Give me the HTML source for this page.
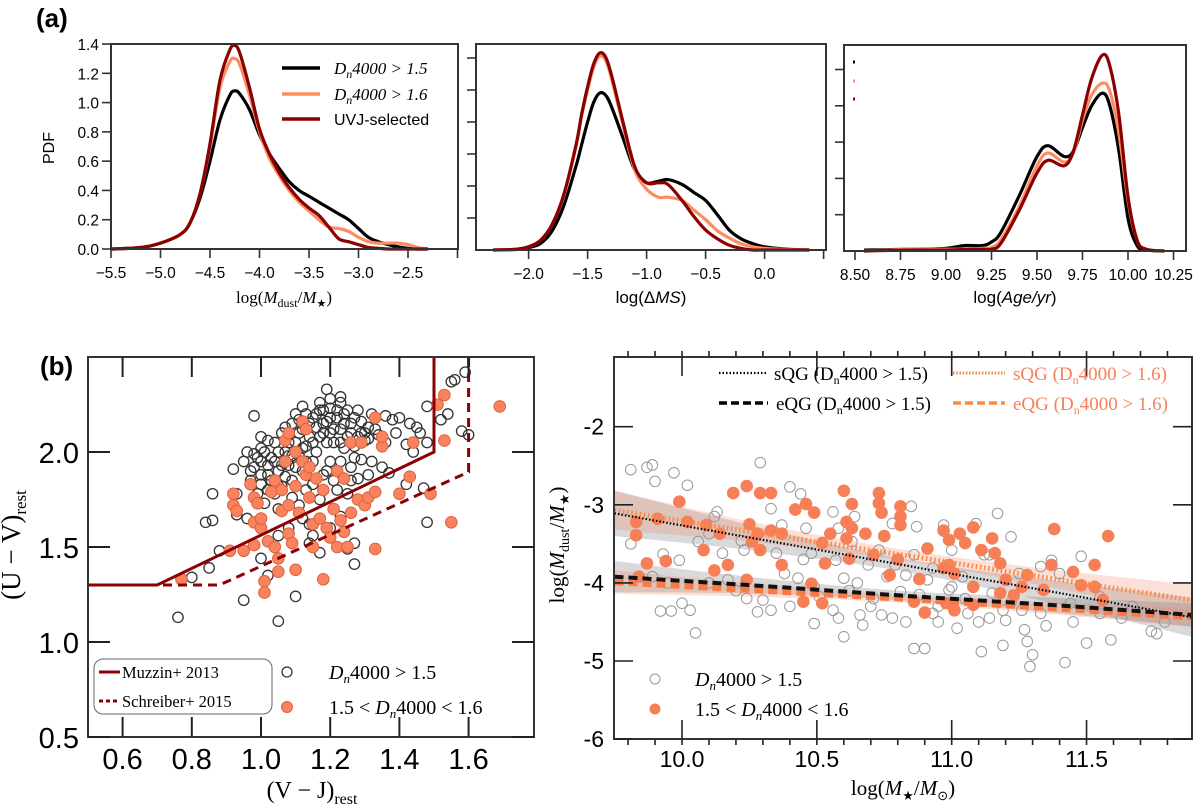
<!DOCTYPE html>
<html><head><meta charset="utf-8"><style>
html,body{margin:0;padding:0;background:#fff;}
svg{display:block;}
text{font-family:"Liberation Sans",sans-serif;}
.serif{font-family:"Liberation Serif",serif;}
</style></head><body>
<svg id="fig" width="1200" height="809" viewBox="0 0 1200 809" xmlns="http://www.w3.org/2000/svg">
<defs>
<clipPath id="clipB1"><rect x="88" y="357" width="446" height="380"/></clipPath>
<clipPath id="clipB2"><rect x="614" y="357" width="578" height="382"/></clipPath>
</defs>
</svg>
<script>
// ---------- Panel a1: log(Mdust/M*) ----------
const a1X = [-5.5,-5.2,-5.0,-4.8,-4.7,-4.6,-4.5,-4.4,-4.3,-4.25,-4.2,-4.1,-4.0,-3.9,-3.8,-3.7,-3.6,-3.5,-3.4,-3.3,-3.2,-3.1,-3.0,-2.9,-2.8,-2.7,-2.6,-2.5,-2.4,-2.3];
const a1Black = [0,0.01,0.04,0.1,0.18,0.35,0.6,0.88,1.05,1.08,1.06,0.95,0.78,0.65,0.55,0.46,0.40,0.36,0.32,0.28,0.24,0.2,0.14,0.08,0.05,0.03,0.015,0.005,0,0];
const a1Orange = [0,0.01,0.04,0.1,0.18,0.38,0.7,1.1,1.28,1.30,1.26,1.05,0.8,0.62,0.5,0.4,0.32,0.26,0.2,0.15,0.14,0.12,0.08,0.05,0.04,0.04,0.04,0.03,0.01,0];
const a1Red = [0,0.01,0.04,0.1,0.18,0.38,0.72,1.15,1.36,1.39,1.34,1.1,0.82,0.65,0.52,0.42,0.34,0.28,0.23,0.15,0.07,0.05,0.03,0.01,0.005,0,0,0,0,0];
const a1XTicks = [-5.5,-5.0,-4.5,-4.0,-3.5,-3.0,-2.5,-2.0];
const a1XLabels = ["\u22125.5","\u22125.0","\u22124.5","\u22124.0","\u22123.5","\u22123.0","\u22122.5",""];
const a1YTicks = [0,0.2,0.4,0.6,0.8,1.0,1.2,1.4];
const a1YLabels = ["0.0","0.2","0.4","0.6","0.8","1.0","1.2","1.4"];
// ---------- Panel a2: log(ΔMS) ----------
const a2X = [-2.3,-2.1,-2.0,-1.9,-1.8,-1.7,-1.6,-1.55,-1.5,-1.45,-1.4,-1.35,-1.3,-1.2,-1.1,-1.0,-0.9,-0.82,-0.7,-0.6,-0.5,-0.4,-0.3,-0.2,-0.1,0.0,0.2,0.38];
const a2Black = [0,0.004,0.015,0.04,0.12,0.28,0.52,0.66,0.8,0.92,0.98,0.97,0.9,0.7,0.5,0.42,0.43,0.44,0.41,0.36,0.31,0.22,0.125,0.07,0.04,0.02,0.005,0];
const a2Orange = [0,0.005,0.02,0.06,0.16,0.35,0.64,0.84,1.0,1.14,1.21,1.19,1.08,0.78,0.5,0.38,0.33,0.33,0.31,0.25,0.19,0.12,0.075,0.04,0.02,0.01,0.003,0];
const a2Red = [0,0.005,0.02,0.06,0.16,0.35,0.65,0.85,1.02,1.16,1.23,1.21,1.1,0.8,0.52,0.42,0.42,0.41,0.31,0.21,0.125,0.07,0.03,0.01,0,0,0,0];
const a2XTicks = [-2.0,-1.5,-1.0,-0.5,0.0,0.5];
const a2XLabels = ["\u22122.0","\u22121.5","\u22121.0","\u22120.5","0.0",""];
const a2YTicks = [0.2,0.4,0.6,0.8,1.0,1.2];
// ---------- Panel a3: log(Age/yr) ----------
const a3X = [8.55,8.8,9.0,9.1,9.2,9.25,9.3,9.4,9.5,9.56,9.65,9.7,9.75,9.8,9.86,9.9,9.95,10.0,10.05,10.1,10.2];
const a3Black = [0.005,0.01,0.015,0.03,0.03,0.05,0.1,0.3,0.52,0.58,0.52,0.55,0.68,0.8,0.87,0.8,0.55,0.18,0.03,0.005,0];
const a3Orange = [0,0.01,0.01,0.01,0.015,0.02,0.06,0.24,0.47,0.54,0.49,0.54,0.72,0.86,0.925,0.88,0.65,0.28,0.06,0.01,0];
const a3Red = [0,0.005,0.005,0.008,0.01,0.01,0.04,0.22,0.43,0.50,0.47,0.55,0.75,0.95,1.08,1.02,0.75,0.3,0.06,0.01,0];
const a3XTicks = [8.5,8.75,9.0,9.25,9.5,9.75,10.0,10.25];
const a3XLabels = ["8.50","8.75","9.00","9.25","9.50","9.75","10.00","10.25"];
const a3YTicks = [0.2,0.4,0.6,0.8,1.0];
// ---------- Panel b1: UVJ ----------
const b1BlackX = [0.76,0.8,0.84,0.86,0.86,0.85,0.88,0.92,0.95,0.98,0.98,1.0,1.01,1.02,1.05,1.1,1.19,1.23,1.48,1.47,1.48,1.48,1.54,1.55,1.56,1.59,1.58,1.6,1.52,1.42,1.43,1.36,1.38,1.4,1.45,1.35,1.37,1.42,1.31,1.3,1.27,1.27,1.25,1.17,1.15,1.14,1.12,1.08,1.05,0.96,0.93,0.93,0.98,1.0,1.0,1.02,1.03,1.04,1.05,1.06,1.07,1.08,1.09,1.1,1.11,1.12,1.13,1.14,1.15,1.16,1.17,1.18,1.19,1.2,1.21,1.22,1.23,1.24,1.25,1.26,1.27,1.28,1.29,1.3,1.31,1.32,1.34,1.06,1.09,1.12,1.15,1.18,1.2,1.22,1.25,1.17,1.11,1.04,1.01,0.97,1.13,1.16,1.2,1.24,1.26,1.28,1.0,1.05,1.14,1.2,1.23,1.29,1.1,1.18,1.23,0.99,
0.95,0.96,0.97,0.99,1.0,1.01,1.02,1.03,1.04,1.05,1.06,1.07,1.08,1.09,1.1,1.11,1.12,1.13,1.14,1.15,1.16,1.17,1.18,1.19,1.2,1.21,1.22,1.23,1.24,1.25,1.26,1.27,1.28,1.29,1.3,1.31,1.33,1.02,1.07,1.11,1.15,1.19,1.23,1.27,1.05,1.09,1.13,1.21,1.26,1.32,1.36,1.39,1.44,1.46,1.02,1.0,1.12,1.2,1.17,1.08];
const b1BlackY = [1.13,1.34,1.63,1.78,1.64,1.39,1.48,1.91,1.22,1.99,2.19,1.44,1.26,1.35,1.11,1.24,2.33,2.29,1.63,1.81,2.05,2.24,2.2,2.37,2.38,2.42,2.11,2.09,2.17,2.04,2.15,2.19,2.17,2.18,2.13,1.92,1.89,1.83,1.88,1.74,1.52,1.41,1.49,1.47,1.56,1.52,1.65,1.6,1.56,1.65,1.67,1.78,1.92,1.95,2.02,1.88,1.97,2.05,1.9,2.1,2.0,1.93,2.15,2.05,1.98,2.12,2.2,2.08,2.18,2.0,2.22,2.1,2.16,2.23,2.05,2.18,2.12,2.2,2.08,2.15,2.03,2.22,2.1,2.06,2.13,2.2,2.09,1.82,1.85,1.9,1.83,1.88,1.95,1.8,1.78,1.75,1.72,1.78,1.73,1.85,2.03,2.13,2.1,2.02,1.92,1.86,1.83,1.7,1.62,1.6,1.66,1.96,2.2,2.22,2.26,1.78,
1.95,2.0,1.9,1.97,1.88,2.0,1.93,1.85,1.95,2.0,1.93,1.87,2.05,1.98,1.92,2.1,2.02,1.95,2.15,2.05,2.2,2.08,2.15,2.05,2.18,2.12,2.22,2.05,2.15,2.22,2.1,2.18,2.08,2.16,2.1,2.07,2.12,2.06,2.13,2.17,1.95,1.9,1.95,1.97,1.82,1.76,1.8,1.85,1.85,1.95,2.05,2.1,2.0,2.1,1.8,2.08,2.24,2.28,2.26,1.98];
const b1OrangeX = [0.77,0.91,0.92,0.92,0.93,0.95,0.97,0.98,0.98,0.98,0.99,1.0,1.0,1.01,1.01,1.02,1.03,1.04,1.05,1.05,1.06,1.06,1.07,1.07,1.08,1.08,1.08,1.09,1.1,1.1,1.1,1.11,1.12,1.12,1.13,1.13,1.14,1.15,1.15,1.16,1.17,1.18,1.18,1.19,1.2,1.21,1.22,1.22,1.23,1.24,1.24,1.25,1.26,1.26,1.28,1.29,1.3,1.31,1.33,1.33,1.35,1.35,1.33,1.44,1.43,1.4,1.49,1.51,1.53,1.53,1.55,1.69,1.04,1.14];
const b1OrangeY = [1.33,1.48,1.78,1.72,1.69,1.48,1.83,1.76,1.63,1.51,1.73,1.6,1.65,1.32,1.26,1.53,1.79,1.5,1.44,1.37,1.69,1.8,1.95,2.06,2.1,1.72,1.57,1.52,1.38,1.82,2.0,1.68,1.95,2.16,1.88,2.12,1.76,1.5,1.62,1.86,1.65,1.8,1.33,1.6,1.55,1.7,1.9,1.5,1.64,1.86,1.58,1.5,2.05,1.68,1.75,2.05,1.72,1.76,1.49,1.79,2.03,2.08,2.18,2.05,1.87,1.78,1.78,2.25,2.3,2.06,1.63,2.24,1.85,1.92];
const muzzinX = [0.5,0.7,1.5,1.5];
const muzzinY = [1.3,1.3,2.0,2.5];
const schreiberX = [0.5,0.88,1.6,1.6];
const schreiberY = [1.3,1.3,1.895,2.5];
const b1XTicks = [0.6,0.8,1.0,1.2,1.4,1.6];
const b1XLabels = ["0.6","0.8","1.0","1.2","1.4","1.6"];
const b1YTicks = [0.5,1.0,1.5,2.0];
const b1YLabels = ["0.5","1.0","1.5","2.0"];
// ---------- Panel b2: Mdust/M* vs M* ----------
const b2BlackX = [9.81,9.87,9.89,9.90,9.97,10.02,9.81,9.93,9.89,9.92,9.96,9.99,10.0,10.03,10.05,10.06,10.10,10.13,10.12,10.15,10.17,10.22,10.24,10.28,10.29,10.30,10.33,10.33,10.35,10.38,10.40,10.44,10.46,10.48,10.49,10.49,10.51,10.56,10.56,10.58,10.60,10.60,10.63,10.64,10.66,10.67,10.69,10.71,10.73,10.74,10.76,10.78,10.79,10.81,10.83,10.85,10.86,10.86,10.87,10.90,10.91,10.93,10.95,10.97,10.99,11.02,11.04,11.06,11.09,11.11,11.14,11.15,11.17,11.19,11.19,11.22,11.25,11.28,11.29,11.30,11.33,11.37,11.40,11.42,11.44,11.48,11.50,11.55,11.59,11.63,11.67,11.74,11.76,11.79,11.12,11.00,10.93,10.57,10.43,10.37,10.23,11.33,11.55,11.20,11.26,11.14,10.62,10.70,10.78,10.88,10.95,11.05,11.10,11.00,10.58,10.65,10.83,11.22,11.35,11.45,10.40,10.20,10.10,9.95,10.45,11.27];
const b2BlackY = [-2.55,-2.52,-2.49,-2.70,-2.59,-2.75,-3.50,-3.63,-3.92,-4.36,-4.36,-3.71,-4.26,-4.35,-4.64,-3.47,-3.37,-3.09,-3.15,-3.62,-3.96,-3.46,-4.20,-4.37,-2.46,-4.22,-4.35,-3.05,-3.62,-3.88,-2.77,-2.86,-3.30,-3.62,-4.05,-4.52,-4.18,-4.35,-3.09,-3.30,-4.69,-3.94,-3.47,-3.15,-4.41,-4.54,-3.77,-4.20,-3.58,-4.41,-3.92,-3.24,-3.77,-4.11,-4.50,-3.02,-4.84,-3.64,-3.28,-4.84,-3.96,-4.39,-4.50,-3.26,-4.09,-4.58,-3.92,-4.39,-3.24,-4.88,-3.64,-4.13,-3.11,-4.35,-4.80,-3.41,-3.88,-4.75,-5.07,-4.92,-4.39,-3.71,-3.88,-5.02,-4.26,-3.66,-4.77,-4.39,-4.73,-4.45,-4.30,-4.62,-4.65,-4.50,-3.64,-3.58,-3.81,-3.71,-3.94,-3.26,-3.58,-3.79,-4.18,-4.48,-4.35,-4.45,-4.10,-4.30,-4.45,-4.15,-4.30,-4.20,-4.50,-4.05,-4.45,-4.00,-3.90,-4.25,-4.55,-4.50,-4.30,-4.10,-4.00,-4.00,-3.70,-4.60];
const b2OrangeX = [9.83,9.83,9.91,9.99,10.02,10.09,10.14,10.08,9.94,9.87,9.84,10.12,10.17,10.19,10.24,10.25,10.26,10.28,10.29,10.29,10.33,10.33,10.37,10.37,10.42,10.46,10.49,10.52,10.55,10.53,10.60,10.63,10.61,10.61,10.62,10.63,10.68,10.71,10.73,10.73,10.74,10.75,10.77,10.81,10.81,10.81,10.80,10.86,10.88,10.90,10.91,10.97,10.99,10.99,11.01,11.03,11.05,11.08,11.08,11.11,11.15,11.16,11.18,11.18,11.20,11.23,11.28,11.26,11.34,11.38,11.37,11.45,11.48,11.53,11.53,11.56,11.58,10.97,10.48,10.24,10.45,10.52,10.98,11.01,11.08];
const b2OrangeY = [-3.22,-3.39,-3.18,-2.96,-3.22,-3.26,-3.37,-3.58,-3.72,-3.75,-3.92,-3.84,-3.77,-2.85,-2.76,-3.25,-3.47,-3.37,-3.58,-2.85,-2.85,-3.33,-3.37,-3.77,-3.06,-2.99,-3.10,-3.49,-3.37,-3.75,-2.82,-2.99,-3.22,-3.43,-3.69,-3.30,-3.37,-3.64,-2.85,-2.98,-3.10,-3.40,-3.90,-3.02,-3.15,-3.26,-3.70,-4.24,-3.95,-4.38,-3.56,-3.33,-3.45,-3.77,-3.88,-3.37,-3.49,-3.29,-4.05,-3.58,-3.43,-3.62,-3.75,-4.13,-3.96,-4.16,-3.90,-4.05,-4.09,-3.31,-3.77,-3.86,-4.03,-3.77,-4.05,-4.22,-3.40,-3.81,-4.01,-3.96,-4.24,-4.26,-4.26,-4.35,-4.28];
const fitX = [9.75,10.3,10.85,11.4,11.89];
const sqgBlackMid = [-3.11,-3.45,-3.79,-4.13,-4.44];
const sqgBlackHW = [0.29,0.15,0.08,0.15,0.25];
const sqgOrangeMid = [-3.07,-3.37,-3.66,-3.96,-4.22];
const sqgOrangeHW = [0.25,0.12,0.07,0.12,0.2];
const eqgBlackMid = [-3.92,-4.04,-4.17,-4.29,-4.41];
const eqgBlackHW = [0.2,0.1,0.06,0.1,0.15];
const eqgOrangeMid = [-3.99,-4.1,-4.21,-4.33,-4.44];
const eqgOrangeHW = [0.15,0.08,0.05,0.08,0.12];
const b2XTicks = [10.0,10.5,11.0,11.5];
const b2XLabels = ["10.0","10.5","11.0","11.5"];
const b2YTicks = [-6,-5,-4,-3,-2];
const b2YLabels = ["-6","-5","-4","-3","-2"];

const NS = "http://www.w3.org/2000/svg";
const svg = document.getElementById('fig');
function mk(tag, name, inter, parent) {
  const el = document.createElementNS(NS, tag);
  
  
  (parent || svg).appendChild(el);
  return el;
}
function set(el, attrs){ for (const k in attrs) el.setAttribute(k, attrs[k]); return el; }
function txt(name, x, y, s, size, opts) {
  const t = mk('text', name, false, opts && opts.parent);
  set(t, {x:x, y:y, 'font-size':size});
  if (opts) { if (opts.anchor) t.setAttribute('text-anchor', opts.anchor); if (opts.cls) t.setAttribute('class', opts.cls);
    if (opts.rot) t.setAttribute('transform', 'rotate(-90 '+x+' '+y+')'); if (opts.fill) t.setAttribute('fill', opts.fill);
    if (opts.weight) t.setAttribute('font-weight', opts.weight); if (opts.style) t.setAttribute('font-style', opts.style); }
  if (opts && opts.html) t.innerHTML = s; else t.textContent = s;
  return t;
}
function smoothPath(pts) {
  let d = 'M' + pts[0][0].toFixed(1) + ',' + pts[0][1].toFixed(1);
  for (let i = 0; i < pts.length - 1; i++) {
    const p0 = pts[Math.max(0,i-1)], p1 = pts[i], p2 = pts[i+1], p3 = pts[Math.min(pts.length-1,i+2)];
    const c1x = p1[0] + (p2[0]-p0[0])/6, c1y = p1[1] + (p2[1]-p0[1])/6;
    const c2x = p2[0] - (p3[0]-p1[0])/6, c2y = p2[1] - (p3[1]-p1[1])/6;
    d += ' C' + c1x.toFixed(1)+','+c1y.toFixed(1)+' '+c2x.toFixed(1)+','+c2y.toFixed(1)+' '+p2[0].toFixed(1)+','+p2[1].toFixed(1);
  }
  return d;
}
function box(name, x0, y0, x1, y1) {
  const r = mk('rect', name, false);
  set(r, {x:x0, y:y0, width:x1-x0, height:y1-y0, fill:'none', stroke:'#333', 'stroke-width':2});
}
function line(name, x1, y1, x2, y2, stroke, w, dash, parent) {
  const l = mk('line', name, false, parent);
  set(l, {x1:x1, y1:y1, x2:x2, y2:y2, stroke:stroke, 'stroke-width':w});
  if (dash) l.setAttribute('stroke-dasharray', dash);
  return l;
}
const BLACK = '#000', ORANGE = '#fc8d62', RED = '#8b0000';

// ===== Panel (a) =====
txt('panel-a-label', 36, 27, '(a)', 26, {weight:'bold'});
function kdePanel(id, X, Y, x0, y0, x1, y1, xs, series, xt, xl, yt, yl) {
  const g = mk('g', id, false);
  const cols = [BLACK, ORANGE, RED], nm = ['dn4000-gt-1.5','dn4000-gt-1.6','uvj-selected'];
  series.forEach((s, k) => {
    const p = mk('path', id+'-curve-'+nm[k], false, g);
    set(p, {d: smoothPath(xs.map((v,i)=>[X(v), Y(s[i])])), fill:'none', stroke:cols[k], 'stroke-width':3.2, 'stroke-linejoin':'round'});
  });
  box(id+'-frame', x0, y0, x1, y1);
  xt.forEach((v,i) => { line(id+'-x-tick', X(v), y1, X(v), y1+9, '#333', 1.6);
    if (xl[i]) txt(id+'-x-tick-label', X(v), y1+29, xl[i], 15.5, {anchor:'middle'}); });
  yt.forEach((v,i) => { line(id+'-y-tick', x0-9, Y(v), x0, Y(v), '#333', 1.6);
    if (yl) txt(id+'-y-tick-label', x0-12, Y(v)+6, yl[i], 15.5, {anchor:'end'}); });
}
const a1Xs = v => 111 + (v + 5.5) * 99, a1Ys = v => 249 - v * 146.4;
kdePanel('panel-a1', a1Xs, a1Ys, 111, 44, 458, 249, a1X, [a1Black, a1Orange, a1Red], a1XTicks, a1XLabels, a1YTicks, a1YLabels);
const a2Xs = v => 528.6 + (v + 2) * 118, a2Ys = v => 250 - v * 160;
kdePanel('panel-a2', a2Xs, a2Ys, 476, 44, 826, 250, a2X, [a2Black, a2Orange, a2Red], a2XTicks, a2XLabels, a2YTicks, null);
const a3Xs = v => 855 + (v - 8.5) * 182, a3Ys = v => 251 - v * 181.5;
kdePanel('panel-a3', a3Xs, a3Ys, 844, 45, 1186, 251, a3X, [a3Black, a3Orange, a3Red], a3XTicks, a3XLabels, a3YTicks, null);
txt('a1-y-axis-title', 54, 148, 'PDF', 16, {anchor:'middle', rot:true});
txt('a1-x-axis-title', 284, 303, 'log(<tspan font-style="italic">M</tspan><tspan font-size="12" dy="4">dust</tspan><tspan dy="-4">/</tspan><tspan font-style="italic">M</tspan><tspan font-size="11" dy="4">\u2605</tspan><tspan dy="-4">)</tspan>', 17, {anchor:'middle', cls:'serif', html:true});
txt('a2-x-axis-title', 651, 303, 'log(\u0394<tspan font-style="italic">MS</tspan>)', 17, {anchor:'middle', html:true});
txt('a3-x-axis-title', 1015, 303, 'log(<tspan font-style="italic">Age/yr</tspan>)', 17, {anchor:'middle', html:true});
const leg = [['legend-entry-dn4000-gt-1.5', BLACK, 'D<tspan font-size="12" dy="4" font-style="italic">n</tspan><tspan dy="-4">4000 &gt; 1.5</tspan>', 68],
             ['legend-entry-dn4000-gt-1.6', ORANGE, 'D<tspan font-size="12" dy="4" font-style="italic">n</tspan><tspan dy="-4">4000 &gt; 1.6</tspan>', 94],
             ['legend-entry-uvj-selected', RED, 'UVJ-selected', 119]];
leg.forEach(e => { line(e[0]+'-line', 282, e[3], 320, e[3], e[1], 3.5);
  const t = txt(e[0]+'-label', 334, e[3]+6, e[2], 16, {html:true});
  if (e[0] !== 'legend-entry-uvj-selected') { t.setAttribute('class','serif'); t.setAttribute('font-style','italic'); t.setAttribute('font-size','17'); } });
[[62, BLACK],[81, ORANGE],[99, RED]].forEach(m => { const c = mk('rect','a3-legend-marker',false); set(c,{x:853,y:m[0]-1.5,width:2,height:3,fill:m[1]}); });

// ===== Panel (b) left: UVJ =====
txt('panel-b-label', 40, 375, '(b)', 26, {weight:'bold'});
const b1Xs = v => 88 + (v - 0.5) * 346, b1Ys = v => 737 - (v - 0.5) * 190;
const gb1 = mk('g', 'uvj-scatter', false); gb1.setAttribute('clip-path','url(#clipB1)');
b1BlackX.forEach((v,i) => { const c = mk('circle','uvj-point-dn4000-gt-1.5',false,gb1);
  set(c,{cx:b1Xs(v), cy:b1Ys(b1BlackY[i]), r:5.2, fill:'none', stroke:'#333', 'stroke-width':1.3}); });
b1OrangeX.forEach((v,i) => { const c = mk('circle','uvj-point-dn4000-1.5-1.6',false,gb1);
  set(c,{cx:b1Xs(v), cy:b1Ys(b1OrangeY[i]), r:5.8, fill:'#f8845f', stroke:'#e0603c', 'stroke-width':1}); });
const pm = mk('polyline','muzzin-2013-boundary',false,gb1);
set(pm,{points: muzzinX.map((v,i)=>b1Xs(v)+','+b1Ys(muzzinY[i])).join(' '), fill:'none', stroke:RED, 'stroke-width':3});
const ps = mk('polyline','schreiber-2015-boundary',false,gb1);
set(ps,{points: schreiberX.map((v,i)=>b1Xs(v)+','+b1Ys(schreiberY[i])).join(' '), fill:'none', stroke:RED, 'stroke-width':3, 'stroke-dasharray':'9,6'});
box('uvj-frame', 88, 357, 534, 737);
b1XTicks.forEach((v,i)=>{ line('uvj-x-tick', b1Xs(v), 737, b1Xs(v), 717, '#222', 2); line('uvj-x-tick-top', b1Xs(v), 357, b1Xs(v), 377, '#222', 2);
  txt('uvj-x-tick-label', b1Xs(v), 769, b1XLabels[i], 29, {anchor:'middle'}); });
b1YTicks.forEach((v,i)=>{ line('uvj-y-tick', 88, b1Ys(v), 110, b1Ys(v), '#222', 2); line('uvj-y-tick-right', 512, b1Ys(v), 534, b1Ys(v), '#222', 2);
  txt('uvj-y-tick-label', 79, b1Ys(v)+11, b1YLabels[i], 29, {anchor:'end'}); });
txt('uvj-x-axis-title', 312, 798, '(V \u2212 J)<tspan font-size="16" dy="6">rest</tspan>', 24, {anchor:'middle', cls:'serif', html:true});
txt('uvj-y-axis-title', 20, 545, '(U \u2212 V)<tspan font-size="17" dy="6">rest</tspan>', 27, {anchor:'middle', cls:'serif', html:true, rot:true});
const lb = mk('rect','uvj-legend-box',false); set(lb,{x:94,y:659,width:178,height:55,rx:9,fill:'#fff',stroke:'#666','stroke-width':1});
line('legend-muzzin-line', 99, 672, 120, 672, RED, 3);
txt('legend-muzzin-label', 122, 678, 'Muzzin+ 2013', 16.5, {cls:'serif'});
line('legend-schreiber-line', 99, 701, 120, 701, RED, 3, '4,3');
txt('legend-schreiber-label', 122, 707, 'Schreiber+ 2015', 16.5, {cls:'serif'});
const lc1 = mk('circle','legend-marker-dn4000-gt-1.5',false); set(lc1,{cx:287,cy:672,r:5,fill:'none',stroke:'#333','stroke-width':1.3});
const lc2 = mk('circle','legend-marker-dn4000-1.5-1.6',false); set(lc2,{cx:287,cy:707,r:5.5,fill:'#f8845f',stroke:'#e0603c'});
txt('legend-label-dn4000-gt-1.5', 329, 679, 'D<tspan font-size="13" dy="4">n</tspan><tspan dy="-4" font-style="normal">4000 &gt; 1.5</tspan>', 20, {cls:'serif', style:'italic', html:true});
txt('legend-label-dn4000-1.5-1.6', 329, 714, '1.5 &lt; <tspan font-style="italic">D</tspan><tspan font-size="13" dy="4" font-style="italic">n</tspan><tspan dy="-4">4000 &lt; 1.6</tspan>', 20, {cls:'serif', html:true});

// ===== Panel (b) right =====
const b2Xs = v => 682 + (v - 10) * 269.7, b2Ys = v => 426.7 - (v + 2) * 78.1;
const gb2 = mk('g','dust-mass-panel',false); gb2.setAttribute('clip-path','url(#clipB2)');
function band(name, mid, hw, fill) {
  const up = fitX.map((v,i)=>[b2Xs(v), b2Ys(mid[i]+hw[i])]);
  const lo = fitX.map((v,i)=>[b2Xs(v), b2Ys(mid[i]-hw[i])]).reverse();
  const p = mk('path', name, false, gb2);
  set(p,{d: smoothPath(up) + ' L' + smoothPath(lo).slice(1) + ' Z', fill:fill, stroke:'none'});
}
band('sqg-dn4000-gt-1.5-band', sqgBlackMid, sqgBlackHW, 'rgba(120,120,120,0.28)');
band('eqg-dn4000-gt-1.5-band', eqgBlackMid, eqgBlackHW, 'rgba(120,120,120,0.28)');
band('sqg-dn4000-gt-1.6-band', sqgOrangeMid, sqgOrangeHW, 'rgba(240,130,100,0.25)');
band('eqg-dn4000-gt-1.6-band', eqgOrangeMid, eqgOrangeHW, 'rgba(240,130,100,0.25)');
b2BlackX.forEach((v,i)=>{ const c = mk('circle','mass-point-dn4000-gt-1.5',false,gb2);
  set(c,{cx:b2Xs(v), cy:b2Ys(b2BlackY[i]), r:5.3, fill:'none', stroke:'#999', 'stroke-width':1}); });
b2OrangeX.forEach((v,i)=>{ const c = mk('circle','mass-point-dn4000-1.5-1.6',false,gb2);
  set(c,{cx:b2Xs(v), cy:b2Ys(b2OrangeY[i]), r:6.3, fill:'#f77f58', stroke:'none'}); });
function fitLine(name, mid, col, w, dash) {
  const p = mk('path', name, false, gb2);
  set(p,{d: smoothPath(fitX.map((v,i)=>[b2Xs(v), b2Ys(mid[i])])), fill:'none', stroke:col, 'stroke-width':w, 'stroke-dasharray':dash});
}
fitLine('sqg-dn4000-gt-1.6-fit', sqgOrangeMid, '#fa8a4a', 5, '1.6,2.6');
fitLine('eqg-dn4000-gt-1.6-fit', eqgOrangeMid, '#fa7a45', 6, '9,5');
fitLine('sqg-dn4000-gt-1.5-fit', sqgBlackMid, '#000', 2.2, '1.5,2');
fitLine('eqg-dn4000-gt-1.5-fit', eqgBlackMid, '#111', 4, '9,5');
box('dust-mass-frame', 614, 357, 1192, 739);
for (let k = 0; k <= 21; k++) { const v = 9.8 + k * 0.1; if (v > 11.89) break;
  line('mass-minor-tick-top', b2Xs(v), 357, b2Xs(v), 351, '#222', 1.6);
  line('mass-minor-tick-bottom', b2Xs(v), 739, b2Xs(v), 745, '#222', 1.6); }
b2XTicks.forEach((v,i)=>{ line('mass-x-tick', b2Xs(v), 739, b2Xs(v), 720, '#222', 1.6); line('mass-x-tick-top', b2Xs(v), 357, b2Xs(v), 376, '#222', 1.6);
  txt('mass-x-tick-label', b2Xs(v), 767, b2XLabels[i], 23, {anchor:'middle'}); });
b2YTicks.forEach((v,i)=>{ line('mass-y-tick', 614, b2Ys(v), 633, b2Ys(v), '#222', 1.6); line('mass-y-tick-right', 1173, b2Ys(v), 1192, b2Ys(v), '#222', 1.6);
  txt('mass-y-tick-label', 604, b2Ys(v)+8, b2YLabels[i], 23, {anchor:'end'}); });
txt('mass-x-axis-title', 903, 795, 'log(<tspan font-style="italic">M</tspan><tspan font-size="13" dy="5">\u2605</tspan><tspan dy="-5">/</tspan><tspan font-style="italic">M</tspan><tspan font-size="13" dy="5">\u2299</tspan><tspan dy="-5">)</tspan>', 21, {anchor:'middle', cls:'serif', html:true});
txt('mass-y-axis-title', 564, 545, 'log(<tspan font-style="italic">M</tspan><tspan font-size="14" dy="5">dust</tspan><tspan dy="-5">/</tspan><tspan font-style="italic">M</tspan><tspan font-size="13" dy="5">\u2605</tspan><tspan dy="-5">)</tspan>', 21, {anchor:'middle', cls:'serif', html:true, rot:true});
line('legend-sqg-1.5-line', 719, 373, 768, 373, '#000', 2.2, '1.5,2');
txt('legend-sqg-1.5-label', 774, 380, 'sQG (D<tspan font-size="12" dy="4">n</tspan><tspan dy="-4">4000 &gt; 1.5)</tspan>', 19, {cls:'serif', html:true});
line('legend-eqg-1.5-line', 719, 403, 768, 403, '#000', 3.5, '8,4');
txt('legend-eqg-1.5-label', 776, 410, 'eQG (D<tspan font-size="12" dy="4">n</tspan><tspan dy="-4">4000 &gt; 1.5)</tspan>', 19, {cls:'serif', html:true});
line('legend-sqg-1.6-line', 953, 373, 1005, 373, '#fa8a4a', 3, '1.6,1.6');
txt('legend-sqg-1.6-label', 1013, 380, 'sQG (D<tspan font-size="12" dy="4">n</tspan><tspan dy="-4">4000 &gt; 1.6)</tspan>', 19, {cls:'serif', html:true, fill:'#f7805a'});
line('legend-eqg-1.6-line', 953, 403, 1005, 403, '#fa8a4a', 3.5, '8,4');
txt('legend-eqg-1.6-label', 1013, 410, 'eQG (D<tspan font-size="12" dy="4">n</tspan><tspan dy="-4">4000 &gt; 1.6)</tspan>', 19, {cls:'serif', html:true, fill:'#f7805a'});
const m1 = mk('circle','mass-legend-marker-dn4000-gt-1.5',false); set(m1,{cx:655,cy:679,r:5,fill:'none',stroke:'#999'});
const m2 = mk('circle','mass-legend-marker-dn4000-1.5-1.6',false); set(m2,{cx:655,cy:709,r:5.5,fill:'#f77f58'});
txt('mass-legend-label-dn4000-gt-1.5', 695, 686, 'D<tspan font-size="13" dy="4">n</tspan><tspan dy="-4" font-style="normal">4000 &gt; 1.5</tspan>', 20, {cls:'serif', style:'italic', html:true});
txt('mass-legend-label-dn4000-1.5-1.6', 695, 716, '1.5 &lt; <tspan font-style="italic">D</tspan><tspan font-size="13" dy="4" font-style="italic">n</tspan><tspan dy="-4">4000 &lt; 1.6</tspan>', 20, {cls:'serif', html:true});
</script>
</body></html>
